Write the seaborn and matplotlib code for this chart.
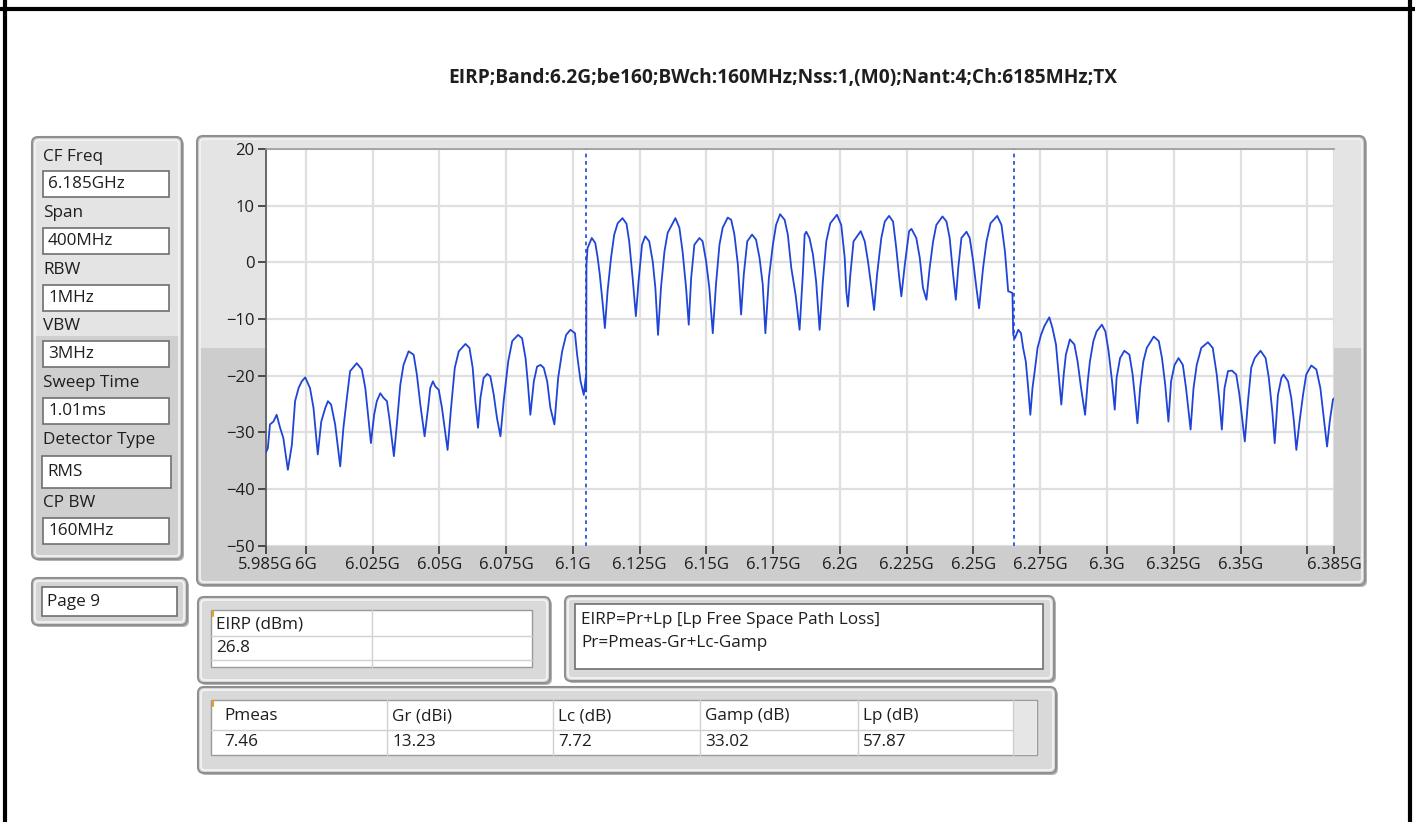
import pandas as pd
import seaborn as sns
import matplotlib.pyplot as plt
from matplotlib.patches import FancyBboxPatch, Rectangle

# ---------------------------------------------------------------------------
# Spectrum trace (GHz, dBm), split in three parts
# ---------------------------------------------------------------------------
left_f = [5.9850, 5.9858, 5.9866, 5.9879, 5.9891, 5.9904, 5.9916, 5.9933, 5.9948, 5.9960,
          5.9973, 5.9985, 5.9998, 6.0016, 6.0029, 6.0045, 6.0058, 6.0073, 6.0083, 6.0095,
          6.0110, 6.0129, 6.0141, 6.0154, 6.0166, 6.0191, 6.0210, 6.0223, 6.0233, 6.0244,
          6.0256, 6.0266, 6.0279, 6.0291, 6.0304, 6.0313, 6.0330, 6.0341, 6.0354, 6.0366,
          6.0385, 6.0404, 6.0416, 6.0429, 6.0445, 6.0458, 6.0466, 6.0476, 6.0485, 6.0498,
          6.0510, 6.0531, 6.0544, 6.0558, 6.0573, 6.0598, 6.0613, 6.0625, 6.0635, 6.0645,
          6.0654, 6.0666, 6.0679, 6.0691, 6.0704, 6.0716, 6.0729, 6.0741, 6.0758, 6.0773,
          6.0795, 6.0810, 6.0823, 6.0831, 6.0841, 6.0854, 6.0866, 6.0879, 6.0891, 6.0904,
          6.0916, 6.0931, 6.0945, 6.0960, 6.0975, 6.0991, 6.1008, 6.1016, 6.1029, 6.1041,
          6.1048]
left_db = [-33.6, -32.8, -28.6, -28.1, -26.9, -29.2, -31.0, -36.6, -32.2, -24.5,
           -22.2, -21.0, -20.3, -22.2, -25.7, -33.9, -28.1, -25.7, -24.5, -25.1,
           -28.6, -36.0, -29.2, -23.9, -19.2, -17.8, -18.9, -22.2, -26.9, -31.9,
           -26.9, -24.5, -23.1, -23.9, -24.5, -27.5, -34.2, -28.6, -21.6, -18.1,
           -15.7, -16.3, -19.8, -25.1, -30.7, -25.7, -22.2, -21.0, -21.9, -22.5,
           -25.7, -33.1, -25.7, -18.6, -15.7, -14.4, -15.1, -18.6, -24.5, -29.2,
           -23.9, -20.4, -19.7, -20.1, -23.4, -27.5, -30.7, -24.5, -17.5, -13.9,
           -12.8, -13.4, -16.9, -21.0, -26.9, -21.0, -18.4, -18.1, -18.6, -21.0,
           -25.7, -28.6, -20.4, -15.7, -12.8, -11.9, -12.5, -16.3, -21.0, -23.4,
           -20.4]

center_f = [6.1050, 6.1051, 6.1055, 6.1071, 6.1084, 6.1093, 6.1101, 6.1111, 6.1120, 6.1130,
            6.1143, 6.1155, 6.1168, 6.1186, 6.1201, 6.1211, 6.1224, 6.1236, 6.1246, 6.1259,
            6.1271, 6.1286, 6.1299, 6.1309, 6.1319, 6.1330, 6.1343, 6.1355, 6.1384, 6.1399,
            6.1411, 6.1424, 6.1434, 6.1443, 6.1455, 6.1474, 6.1486, 6.1499, 6.1511, 6.1524,
            6.1536, 6.1549, 6.1561, 6.1580, 6.1593, 6.1605, 6.1618, 6.1630, 6.1640, 6.1653,
            6.1671, 6.1686, 6.1699, 6.1711, 6.1721, 6.1734, 6.1749, 6.1761, 6.1776, 6.1793,
            6.1805, 6.1818, 6.1834, 6.1849, 6.1861, 6.1868, 6.1874, 6.1886, 6.1899, 6.1911,
            6.1924, 6.1936, 6.1949, 6.1964, 6.1989, 6.2005, 6.2018, 6.2024, 6.2030, 6.2039,
            6.2051, 6.2078, 6.2093, 6.2105, 6.2118, 6.2128, 6.2139, 6.2155, 6.2168, 6.2184,
            6.2199, 6.2211, 6.2221, 6.2230, 6.2243, 6.2259, 6.2268, 6.2286, 6.2299, 6.2311,
            6.2324, 6.2336, 6.2349, 6.2361, 6.2384, 6.2399, 6.2411, 6.2424, 6.2434, 6.2443,
            6.2455, 6.2474, 6.2486, 6.2499, 6.2511, 6.2521, 6.2536, 6.2549, 6.2564, 6.2589,
            6.2605, 6.2618, 6.2630, 6.2646]
center_db = [-22.8, -0.4, 2.5, 4.3, 3.4, 0.8, -2.2, -6.9, -11.6, -5.1,
             0.8, 4.9, 6.9, 7.8, 6.8, 3.7, -2.8, -9.5, -3.4, 3.1,
             4.6, 3.7, 0.2, -4.5, -12.8, -4.5, 1.9, 5.2, 7.8, 6.1,
             1.9, -4.5, -11.0, -2.8, 3.1, 4.3, 3.7, 0.2, -4.5, -12.5,
             -3.9, 3.1, 6.1, 7.9, 7.5, 4.9, -0.4, -9.2, -2.2, 3.7,
             4.9, 4.0, 0.8, -3.9, -12.5, -2.8, 3.1, 6.6, 8.5, 7.5,
             4.9, -1.0, -5.7, -11.9, -2.2, 4.9, 5.4, 4.3, 1.4, -3.4,
             -11.9, -3.4, 3.7, 6.9, 8.4, 6.6, 0.8, -5.1, -7.8, -2.2,
             3.7, 5.5, 3.7, 0.2, -4.5, -8.4, -2.2, 4.3, 7.2, 8.2,
             7.2, 2.5, -2.2, -6.0, -0.4, 5.5, 5.9, 4.3, 0.8, -4.5,
             -6.6, -1.0, 3.7, 6.6, 8.1, 7.2, 4.3, -2.2, -6.6, -1.0,
             4.3, 5.4, 4.3, 0.2, -4.5, -8.1, -1.0, 3.7, 6.9, 8.2,
             6.6, 1.9, -5.1, -5.4]

right_f = [6.2649, 6.2655, 6.2668, 6.2678, 6.2686, 6.2696, 6.2705, 6.2713, 6.2721, 6.2731,
           6.2740, 6.2753, 6.2765, 6.2784, 6.2796, 6.2809, 6.2819, 6.2829, 6.2838, 6.2846,
           6.2861, 6.2878, 6.2890, 6.2903, 6.2918, 6.2928, 6.2936, 6.2949, 6.2961, 6.2981,
           6.2994, 6.3006, 6.3019, 6.3029, 6.3036, 6.3049, 6.3065, 6.3084, 6.3096, 6.3105,
           6.3114, 6.3124, 6.3136, 6.3149, 6.3175, 6.3194, 6.3206, 6.3218, 6.3230, 6.3240,
           6.3253, 6.3268, 6.3284, 6.3296, 6.3313, 6.3324, 6.3336, 6.3353, 6.3378, 6.3396,
           6.3411, 6.3421, 6.3430, 6.3440, 6.3453, 6.3468, 6.3484, 6.3496, 6.3506, 6.3516,
           6.3528, 6.3540, 6.3553, 6.3575, 6.3594, 6.3606, 6.3619, 6.3628, 6.3640, 6.3653,
           6.3661, 6.3678, 6.3690, 6.3700, 6.3709, 6.3721, 6.3734, 6.3746, 6.3765, 6.3784,
           6.3799, 6.3809, 6.3824, 6.3834, 6.3846, 6.3850]
right_db = [-12.8, -13.4, -11.9, -12.5, -15.1, -17.5, -22.2, -26.9, -22.2, -18.6,
            -15.1, -12.8, -11.3, -9.7, -11.6, -14.5, -19.8, -25.1, -19.8, -16.3,
            -13.6, -14.5, -17.5, -22.2, -26.9, -21.0, -17.5, -13.9, -12.2, -11.0,
            -12.2, -15.7, -21.0, -26.0, -20.4, -16.9, -15.6, -16.3, -19.8, -23.9,
            -28.4, -22.2, -17.5, -15.1, -13.1, -13.9, -16.9, -21.6, -28.1, -21.0,
            -18.1, -16.9, -18.1, -22.2, -29.5, -22.2, -18.1, -15.1, -14.1, -15.1,
            -19.8, -24.5, -29.5, -22.2, -19.2, -19.1, -19.8, -23.4, -27.5, -31.6,
            -24.5, -18.6, -16.9, -15.6, -16.9, -20.4, -26.3, -31.9, -23.4, -20.4,
            -19.8, -21.0, -23.9, -28.1, -33.1, -28.1, -23.4, -19.8, -18.2, -18.9,
            -22.2, -26.3, -32.5, -28.1, -24.2, -24.0]

# channel power markers (6.185 GHz +/- 80 MHz)
marker_ghz = [6.105, 6.265]

# x axis ticks as shown by the analyzer
tick_ghz = [5.985, 6.0, 6.025, 6.05, 6.075, 6.1, 6.125, 6.15, 6.175, 6.2,
            6.225, 6.25, 6.275, 6.3, 6.325, 6.35, 6.375, 6.385]
tick_text = ["5.985G", "6G", "6.025G", "6.05G", "6.075G", "6.1G", "6.125G", "6.15G",
             "6.175G", "6.2G", "6.225G", "6.25G", "6.275G", "6.3G", "6.325G", "6.35G",
             "", "6.385G"]

# settings panel on the left
setting_names = ["CF Freq", "Span", "RBW", "VBW", "Sweep Time", "Detector Type", "CP BW"]
setting_values = ["6.185GHz", "400MHz", "1MHz", "3MHz", "1.01ms", "RMS", "160MHz"]

# result tables
param_names = ["Pmeas", "Gr (dBi)", "Lc (dB)", "Gamp (dB)", "Lp (dB)"]
param_values = ["7.46", "13.23", "7.72", "33.02", "57.87"]
eirp_value = "26.8"
formula_lines = ["EIRP=Pr+Lp [Lp Free Space Path Loss]", "Pr=Pmeas-Gr+Lc-Gamp"]
title = "EIRP;Band:6.2G;be160;BWch:160MHz;Nss:1,(M0);Nant:4;Ch:6185MHz;TX"

# ---------------------------------------------------------------------------
# Styling
# ---------------------------------------------------------------------------
sns.set_theme(style="white")
plt.rcParams["font.family"] = ["Open Sans", "DejaVu Sans"]
TXT = "#1e1e1e"
TRACE = "#1f45d8"
FS = 12.3  # front panel text size

spectrum = pd.DataFrame({"freq": left_f + center_f + right_f,
                         "level": left_db + center_db + right_db})

fig = plt.figure(figsize=(14.15, 8.22), dpi=100)
fig.patch.set_facecolor("white")

# background axes in pixel coordinates (y down) for the front-panel widgets
bg = fig.add_axes([0, 0, 1, 1])
bg.set_xlim(0, 1415)
bg.set_ylim(822, 0)
bg.axis("off")


def panel(x0, y0, x1, y1, fill="#d9d9d9", split=None, light="#e4e4e4"):
    w, h = x1 - x0, y1 - y0
    bg.add_patch(FancyBboxPatch((x0 + 2, y0 + 2), w, h, boxstyle="round,pad=0,rounding_size=6",
                                fc="#b4b4b4", ec="none"))
    bg.add_patch(FancyBboxPatch((x0, y0), w, h, boxstyle="round,pad=0,rounding_size=6",
                                fc=fill, ec="#8f8f8f", lw=1.5))
    if split is not None:
        bg.add_patch(Rectangle((x0 + 3, y0 + 3), w - 6, split - y0 - 3, fc=light, ec="none"))
    bg.add_patch(FancyBboxPatch((x0 + 3, y0 + 3), w - 6, h - 6, boxstyle="round,pad=0,rounding_size=4",
                                fc="none", ec="#f5f5f5", lw=1.2))


def field(x0, y0, x1, y1, text=None):
    bg.add_patch(Rectangle((x0, y0), x1 - x0, y1 - y0, fc="white", ec="#6f6f6f", lw=1.2))
    if text:
        bg.text(x0 + 5, (y0 + y1) / 2, text, fontsize=FS, color=TXT, va="center", ha="left")


# frame lines of the report page
bg.plot([0, 1415], [9, 9], color="black", lw=3)
bg.plot([5, 5], [0, 822], color="black", lw=3)
bg.plot([1410, 1410], [0, 822], color="black", lw=3)

bg.text(783, 78, title, fontsize=13.8, fontweight="bold", color=TXT, ha="center", va="center")

# left settings panel
panel(32, 137, 182, 559, fill="#cfcfcf", split=336)
label_y = [157, 213, 270, 326, 383, 440, 503]
box_y = [(171, 197), (228, 254), (285, 311), (341, 367), (398, 424), (456, 488), (518, 544)]
for name, val, ly, (b0, b1) in zip(setting_names, setting_values, label_y, box_y):
    bg.text(43, ly, name, fontsize=FS, color=TXT, va="center", ha="left")
    x0 = 42 if name == "Detector Type" else 43
    x1 = 171 if name == "Detector Type" else 169
    field(x0, b0, x1, b1, val)

panel(32, 578, 187, 625, fill="#d4d4d4")
field(42, 587, 177, 616, "Page 9")

# graph panel
panel(197, 136, 1365, 585, fill="#cdcdcd", split=348)

# EIRP table
panel(198, 597, 550, 683)
bg.add_patch(Rectangle((211, 610), 321, 57, fc="white", ec="#9a9a9a", lw=1))
for yy in [636, 660]:
    bg.plot([211, 532], [yy, yy], color="#d0d0d0", lw=1)
bg.plot([372, 372], [610, 667], color="#d0d0d0", lw=1)
bg.plot([212.5, 212.5], [611, 616], color="#e8a020", lw=1.5)
bg.text(216, 624, "EIRP (dBm)", fontsize=FS, color=TXT, va="center")
bg.text(216, 648, eirp_value, fontsize=FS, color=TXT, va="center")

# formula box
panel(565, 596, 1054, 681)
bg.add_patch(Rectangle((575, 604), 468, 65, fc="white", ec="#6f6f6f", lw=1.2))
for i, line in enumerate(formula_lines):
    bg.text(581, 620 + 23 * i, line, fontsize=FS, color=TXT, va="center")

# parameter table
panel(198, 687, 1056, 773)
bg.add_patch(Rectangle((211, 700), 826, 55, fc="white", ec="#9a9a9a", lw=1))
bg.add_patch(Rectangle((1013, 701), 23, 53, fc="#e6e6e6", ec="none"))
bg.plot([211, 1013], [730, 730], color="#d0d0d0", lw=1)
col_x = [211, 387, 553, 700, 858]
for cx in col_x[1:] + [1013]:
    bg.plot([cx, cx], [700, 755], color="#d0d0d0", lw=1)
bg.plot([212.5, 212.5], [701, 706], color="#e8a020", lw=1.5)
for cx, name, val in zip(col_x, param_names, param_values):
    off = 13 if cx == 211 else 5
    bg.text(cx + off, 716, name, fontsize=FS, color=TXT, va="center")
    bg.text(cx + off, 742, val, fontsize=FS, color=TXT, va="center")

# ---------------------------------------------------------------------------
# Spectrum graph
# ---------------------------------------------------------------------------
ax = fig.add_axes([265.7 / 1415, (822 - 545.7) / 822, (1334 - 265.7) / 1415, 396.7 / 822])
ax.set_facecolor("white")
sns.lineplot(data=spectrum, x="freq", y="level", ax=ax, color=TRACE, lw=1.3,
             estimator=None, sort=False, zorder=3)
for m in marker_ghz:
    ax.axvline(m, color=TRACE, lw=1.2, ls=(0, (2.2, 2.2)), zorder=2)

ax.set_xlim(5.985, 6.385)
ax.set_ylim(-50, 20)
ax.set_xticks(tick_ghz)
ax.set_xticklabels(tick_text)
ax.set_yticks(list(range(-50, 21, 10)))
ax.set_xlabel("")
ax.set_ylabel("")
ax.grid(True, color="#dfdfdf", lw=1.6, zorder=0)
ax.set_axisbelow(True)
ax.tick_params(axis="both", direction="out", length=6, width=1.2, color="#333333",
               labelsize=12, labelcolor=TXT, pad=2, bottom=True, left=True)
for side in ["right", "bottom"]:
    ax.spines[side].set_visible(False)
ax.spines["left"].set_color("#555555")
ax.spines["left"].set_linewidth(1.2)
ax.spines["top"].set_color("#9a9a9a")
ax.spines["top"].set_linewidth(1.2)

fig.savefig("out.png", dpi=100)
